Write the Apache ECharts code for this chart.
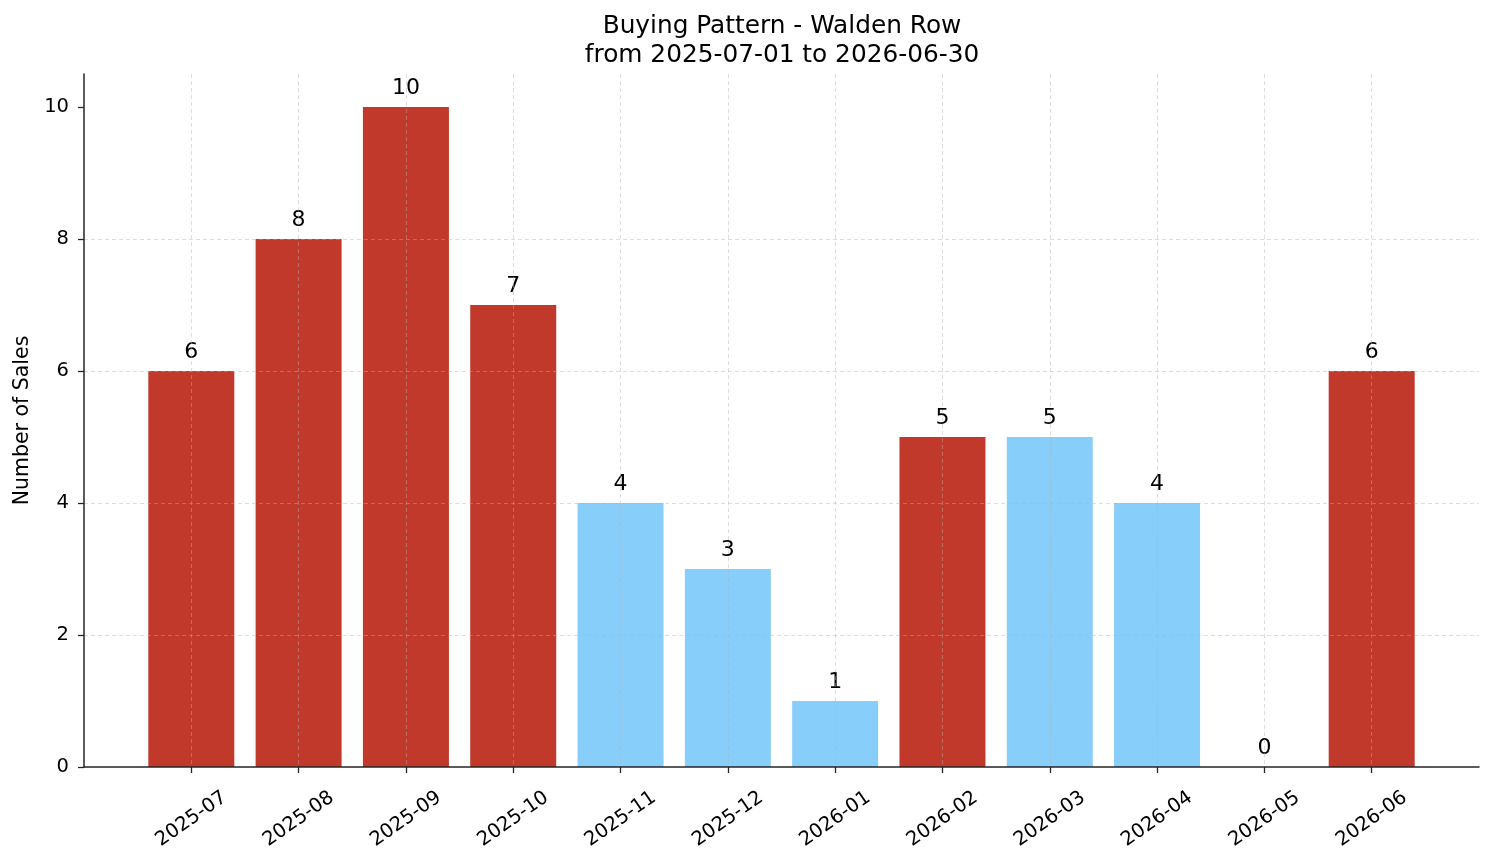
<!DOCTYPE html>
<html>
<head>
<meta charset="utf-8">
<script src="https://cdn.jsdelivr.net/npm/echarts@6/dist/echarts.min.js"></script>
<style>
  html, body { margin: 0; padding: 0; background: #fff; }
  #chart { width: 1494px; height: 863px; }
</style>
</head>
<body>
<div id="chart"></div>
<script>
const months = ['2025-07', '2025-08', '2025-09', '2025-10', '2025-11', '2025-12',
                '2026-01', '2026-02', '2026-03', '2026-04', '2026-05', '2026-06'];
const sales = [6, 8, 10, 7, 4, 3, 1, 5, 5, 4, 0, 6];
// months drawn in the dark red colour
const highlighted = ['2025-07', '2025-08', '2025-09', '2025-10', '2026-02', '2026-06'];
const yTicks = [0, 2, 4, 6, 8, 10];

const RED = '#c0392b';
const BLUE = '#87cefa';
const FONT = 'DejaVu Sans';
const gridLine = { show: true, lineStyle: { color: 'rgba(176,176,176,0.55)', width: 0.8, type: [4, 3] } };

// one empty slot each side gives matplotlib's side margins
const axisCats = ['', ...months, ''];
const edge = (i) => i > 0 && i < axisCats.length - 1;

const chart = echarts.init(document.getElementById('chart'));
chart.setOption({
  animation: false,
  textStyle: { fontFamily: FONT },
  graphic: [{
    type: 'text',
    x: 782,
    y: 12,
    style: {
      text: 'Buying Pattern - Walden Row\nfrom 2025-07-01 to 2026-06-30',
      align: 'center',
      verticalAlign: 'top',
      font: '24.8px "DejaVu Sans"',
      lineHeight: 29,
      fill: '#000',
    },
  }],
  grid: { left: 84, right: 15, top: 74, bottom: 96 },
  xAxis: {
    type: 'category',
    data: axisCats,
    boundaryGap: false,
    z: 3,
    axisLine: { lineStyle: { color: '#262626', width: 1.5 } },
    axisTick: { show: true, length: 6, interval: edge, lineStyle: { color: '#262626', width: 1.3 } },
    axisLabel: {
      interval: 0,
      rotate: 35,
      align: 'center',
      verticalAlign: 'middle',
      margin: 52,
      fontSize: 19.5,
      color: '#000',
      fontFamily: FONT,
    },
    splitLine: { ...gridLine, interval: edge },
  },
  yAxis: {
    type: 'value',
    min: 0,
    max: 10.5,
    interval: 2,
    z: 3,
    name: 'Number of Sales',
    nameLocation: 'middle',
    nameGap: 47,
    nameTextStyle: { fontSize: 20.5, color: '#000', fontFamily: FONT },
    axisLine: { show: true, lineStyle: { color: '#262626', width: 1.5 } },
    axisTick: { show: true, length: 6, customValues: yTicks, lineStyle: { color: '#262626', width: 1.3 } },
    axisLabel: { customValues: yTicks, margin: 15, fontSize: 19.5, color: '#000', fontFamily: FONT },
    splitLine: { ...gridLine, showMaxLine: false, showMinLine: false },
  },
  series: [{
    type: 'bar',
    barWidth: 86,
    z: 2,
    data: months.map((m, i) => ({
      value: [m, sales[i]],
      itemStyle: { color: highlighted.includes(m) ? RED : BLUE },
    })),
    label: {
      show: true,
      position: 'top',
      distance: 8,
      fontSize: 22,
      color: '#000',
      fontFamily: FONT,
      formatter: (p) => String(p.value[1]),
    },
  }],
});
</script>
</body>
</html>
